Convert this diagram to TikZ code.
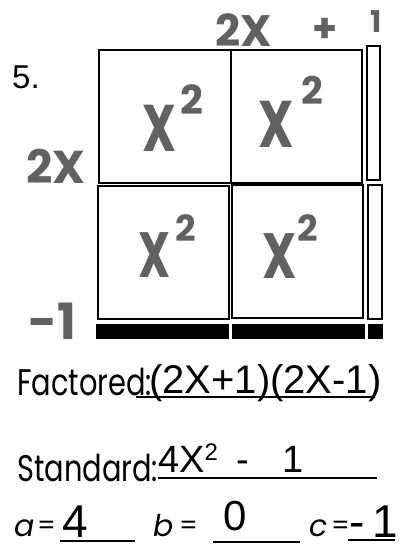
\documentclass[tikz,border=0pt]{standalone}
\usepackage{fontspec}
\setmainfont{Poppins}
\newfontfamily\arialf{Liberation Sans}
\newfontfamily\penf{Liberation Sans}
\newfontfamily\markf{Poppins}
\definecolor{marker}{gray}{0.38}
\begin{document}
\begin{tikzpicture}[x=1pt,y=-1pt,
  cell/.style={draw=black,line width=2.4pt},
  stripbox/.style={draw=black,line width=2.2pt},
  bar/.style={fill=black},
  mk/.style={inner sep=0pt,text=marker,font=\markf\bfseries},
  pen/.style={inner sep=0pt,font=\penf},
  printed/.style={inner sep=0pt,anchor=base west},
  uline/.style={line width=1.6pt}]
\useasboundingbox (0,0) rectangle (401,550);

% grid cells
\draw[cell] (99,50) rectangle (231,183);
\draw[cell] (231,50) rectangle (362,183);
\draw[stripbox] (367,46) rectangle (380,180);
\draw[cell] (98,186) rectangle (229,319);
\draw[cell] (232,185) rectangle (363,318);
\draw[stripbox] (368,185) rectangle (382,319);
\fill[bar] (96,324) rectangle (229,339);
\fill[bar] (232,324) rectangle (365,339);
\fill[bar] (368,324) rectangle (383,339);

% problem number
\node[inner sep=0pt,anchor=base west,font=\arialf\fontsize{33}{36}\selectfont] (num) at (12,88) {5.};

% marker labels
\node[mk,font=\markf\bfseries\fontsize{44}{48}\selectfont] (top2x) at (244,30) {2X};
\node[mk,font=\markf\bfseries\fontsize{40}{44}\selectfont] (topplus) at (325,30) {+};
\node[mk,font=\markf\bfseries\fontsize{30}{34}\selectfont] (top1) at (376,22) {1};
\node[mk,font=\markf\bfseries\fontsize{46}{50}\selectfont] (left2x) at (56,166) {2X};
\node[mk,font=\markf\bfseries\fontsize{50}{54}\selectfont] (leftm1) at (52,321) {-1};

% x^2 in cells
\node[mk,xscale=0.72,font=\markf\bfseries\fontsize{66}{70}\selectfont] (xa) at (159,128) {X};
\node[mk,font=\markf\bfseries\fontsize{40}{44}\selectfont] (sa) at (192,100) {2};
\node[mk,xscale=0.75,font=\markf\bfseries\fontsize{66}{70}\selectfont] (xb) at (276,124) {X};
\node[mk,font=\markf\bfseries\fontsize{38}{42}\selectfont] (sb) at (312,90) {2};
\node[mk,xscale=0.7,font=\markf\bfseries\fontsize{64}{68}\selectfont] (xc) at (155,255) {X};
\node[mk,font=\markf\bfseries\fontsize{36}{40}\selectfont] (sc) at (186,228) {2};
\node[mk,xscale=0.75,font=\markf\bfseries\fontsize{64}{68}\selectfont] (xd) at (280,256) {X};
\node[mk,font=\markf\bfseries\fontsize{36}{40}\selectfont] (sd) at (308,228) {2};

% printed text
\node[printed,xscale=0.78,font=\fontsize{37}{40}\selectfont] (fact) at (17,395) {Factored:};
\node[printed,xscale=0.78,font=\fontsize{37}{40}\selectfont] (std) at (17,481) {Standard:};
\node[printed,font=\itshape\fontsize{30}{34}\selectfont] (alab) at (14,536) {a};
\node[printed,font=\fontsize{26}{30}\selectfont] (aeq) at (37,534) {=};
\node[printed,font=\itshape\fontsize{30}{34}\selectfont] (blab) at (153,536) {b};
\node[printed,font=\fontsize{26}{30}\selectfont] (beq) at (179,534) {=};
\node[printed,font=\itshape\fontsize{30}{34}\selectfont] (clab) at (309,536) {c};
\node[printed,font=\fontsize{26}{30}\selectfont] (ceq) at (331,534) {=};

% pen answers
\node[pen,anchor=base west,font=\penf\fontsize{40}{44}\selectfont] (factans) at (149,393) {(2X+1)(2X-1)};
\node[pen,anchor=base west,font=\penf\fontsize{38}{42}\selectfont] (stdans) at (158,472) {4X\raisebox{12pt}{\fontsize{24}{26}\selectfont 2}\hspace{18pt}-\hspace{34pt}1};
\node[pen,anchor=base west,font=\penf\fontsize{46}{50}\selectfont] (aans) at (62,537) {4};
\node[pen,anchor=base west,font=\penf\fontsize{42}{46}\selectfont] (bans) at (223,530) {0};
\node[pen,anchor=base west,font=\penf\fontsize{46}{50}\selectfont] (cans) at (349,537) {-\hspace{8pt}1};

% answer lines
\coordinate (f1) at (136,397); \coordinate (f2) at (375,397);
\coordinate (s1) at (158,478); \coordinate (s2) at (377,478);
\coordinate (a1) at (60,541);  \coordinate (a2) at (135,541);
\coordinate (b1) at (213,542); \coordinate (b2) at (300,542);
\coordinate (c1) at (348,540); \coordinate (c2) at (395,540);
\draw[uline] (f1) -- (f2);
\draw[uline] (s1) -- (s2);
\draw[uline] (a1) -- (a2);
\draw[uline] (b1) -- (b2);
\draw[uline] (c1) -- (c2);
\end{tikzpicture}
\end{document}
